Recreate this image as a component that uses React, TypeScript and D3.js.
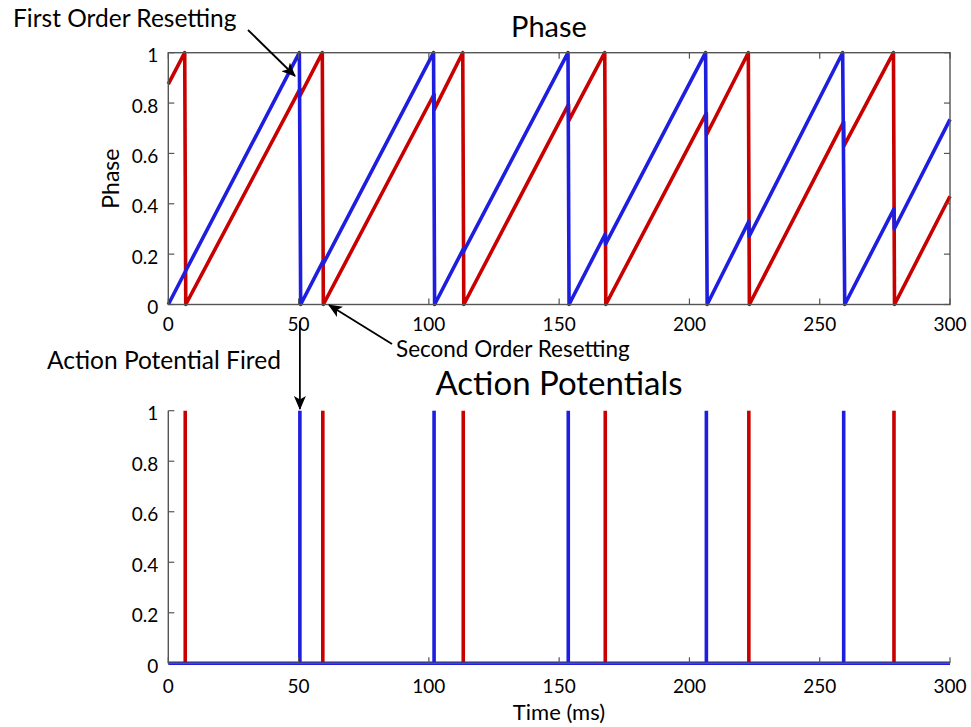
import React from "react";
import * as d3 from "d3";

// Phase trajectories of the two oscillators: vertex times (ms) and phase values
const blueTimes = [0, 6.5, 50.3, 50.8, 59.3, 59.4, 101.8, 102.2, 113.2, 113.3, 153.4, 153.8, 167.7, 167.8, 206.2, 206.8, 222.8, 222.9, 258.8, 259.6, 278.5, 278.6, 300];
const bluePhase = [0, 0.13, 1, 0, 0.17, 0.16, 1, 0, 0.22, 0.21, 1, 0, 0.28, 0.24, 1, 0, 0.33, 0.27, 1, 0, 0.38, 0.3, 0.735];

const redTimes = [0, 6.3, 6.7, 50.5, 50.6, 59.1, 59.5, 102, 102.1, 113.0, 113.4, 153.6, 153.7, 167.5, 167.9, 206.5, 206.6, 222.6, 223.0, 259.2, 259.3, 278.3, 278.7, 300];
const redPhase = [0.875, 1, 0, 0.855, 0.83, 1, 0, 0.835, 0.775, 1, 0, 0.795, 0.73, 1, 0, 0.76, 0.675, 1, 0, 0.725, 0.63, 1, 0, 0.43];

// Action potential firing times (ms)
const blueSpikes = [50.5, 102, 153.5, 206.5, 259.2];
const redSpikes = [6.5, 59.3, 113.2, 167.7, 222.8, 278.5];

const xTicks = [0, 50, 100, 150, 200, 250, 300];
const yTicks = [0, 0.2, 0.4, 0.6, 0.8, 1];
const yTickLabels = ["0", "0.2", "0.4", "0.6", "0.8", "1"];

const W = 971;
const H = 727;
const BLUE = "#1e1ee0";
const RED = "#c80000";
const AXIS = "#555";
const FONT = "Lato, 'Open Sans', sans-serif";

const x = d3.scaleLinear().domain([0, 300]).range([168.3, 950]);
const yTop = d3.scaleLinear().domain([0, 1]).range([304.5, 52.7]);
const yBot = d3.scaleLinear().domain([0, 1]).range([663.3, 410.7]);

const TICK = 6;
const LW = 3.6;

function zipPts(ts: number[], vs: number[]): [number, number][] {
  return ts.map((t, i) => [t, vs[i]]);
}

export default function App() {
  const lineTop = d3
    .line<[number, number]>()
    .x((d) => x(d[0]))
    .y((d) => yTop(d[1]));

  const bluePath = lineTop(zipPts(blueTimes, bluePhase)) || "";
  const redPath = lineTop(zipPts(redTimes, redPhase)) || "";

  const [x0, x1] = x.range();
  const [tb, tt] = [yTop(0), yTop(1)];
  const [bb, bt] = [yBot(0), yBot(1)];

  return (
    <svg
      width={W}
      height={H}
      viewBox={`0 0 ${W} ${H}`}
      style={{ position: "absolute", left: 0, top: 0, background: "#fff" }}
      fontFamily={FONT}
    >
      <defs>
        <marker
          id="arrowHead"
          viewBox="0 0 14 12"
          refX="13"
          refY="6"
          markerWidth="14"
          markerHeight="12"
          markerUnits="userSpaceOnUse"
          orient="auto"
        >
          <path d="M0,0 L14,6 L0,12 L3.5,6 Z" fill="#000" />
        </marker>
      </defs>
      <rect x={0} y={0} width={W} height={H} fill="#fff" />

      {/* ---------- Phase panel ---------- */}
      <text x={549} y={37} textAnchor="middle" fontSize={29} fill="#000">
        Phase
      </text>
      <text
        transform={`translate(119, ${(tb + tt) / 2}) rotate(-90)`}
        textAnchor="middle"
        fontSize={23}
        fill="#000"
      >
        Phase
      </text>

      <path d={redPath} fill="none" stroke={RED} strokeWidth={LW} strokeLinejoin="round" />
      <path d={bluePath} fill="none" stroke={BLUE} strokeWidth={LW} strokeLinejoin="round" />

      <rect x={x0} y={tt} width={x1 - x0} height={tb - tt} fill="none" stroke={AXIS} strokeWidth={1.4} />
      {xTicks.map((t) => (
        <g key={`tx${t}`}>
          <line x1={x(t)} x2={x(t)} y1={tb} y2={tb - TICK} stroke={AXIS} strokeWidth={1.2} />
          <line x1={x(t)} x2={x(t)} y1={tt} y2={tt + TICK} stroke={AXIS} strokeWidth={1.2} />
          <text x={x(t)} y={tb + 26} textAnchor="middle" fontSize={19} fill="#000">
            {t}
          </text>
        </g>
      ))}
      {yTicks.map((v, i) => (
        <g key={`ty${v}`}>
          <line x1={x0} x2={x0 + TICK} y1={yTop(v)} y2={yTop(v)} stroke={AXIS} strokeWidth={1.2} />
          <line x1={x1} x2={x1 - TICK} y1={yTop(v)} y2={yTop(v)} stroke={AXIS} strokeWidth={1.2} />
          <text x={x0 - 10} y={yTop(v) + 9.5} textAnchor="end" fontSize={19} fill="#000">
            {yTickLabels[i]}
          </text>
        </g>
      ))}

      {/* ---------- Annotations ---------- */}
      <text x={13} y={27} fontSize={24.5} fill="#000">
        First Order Resetting
      </text>
      <line x1={248} y1={30} x2={295} y2={76} stroke="#000" strokeWidth={1.8} markerEnd="url(#arrowHead)" />

      <text x={396} y={357} fontSize={22.5} fill="#000">
        Second Order Resetting
      </text>
      <line x1={392} y1={344} x2={329} y2={305} stroke="#000" strokeWidth={1.8} markerEnd="url(#arrowHead)" />

      <text x={47} y={369} fontSize={24.5} fill="#000">
        Action Potential Fired
      </text>
      <line x1={x(50.5)} y1={321} x2={x(50.5)} y2={409} stroke="#000" strokeWidth={1.8} markerEnd="url(#arrowHead)" />

      {/* ---------- Action potentials panel ---------- */}
      <text x={559} y={395} textAnchor="middle" fontSize={33} fill="#000">
        Action Potentials
      </text>

      {redSpikes.map((t) => (
        <line key={`rs${t}`} x1={x(t)} x2={x(t)} y1={yBot(0)} y2={yBot(1)} stroke={RED} strokeWidth={LW} />
      ))}
      {blueSpikes.map((t) => (
        <line key={`bs${t}`} x1={x(t)} x2={x(t)} y1={yBot(0)} y2={yBot(1)} stroke={BLUE} strokeWidth={LW} />
      ))}
      <line x1={x(0)} x2={x(300)} y1={yBot(0)} y2={yBot(0)} stroke={BLUE} strokeWidth={LW} />

      <line x1={x0} x2={x0} y1={bb} y2={bt} stroke={AXIS} strokeWidth={1.4} />
      <line x1={x0} x2={x1} y1={bb} y2={bb} stroke={AXIS} strokeWidth={1.4} />
      {xTicks.map((t) => (
        <g key={`bx${t}`}>
          <line x1={x(t)} x2={x(t)} y1={bb} y2={bb - TICK} stroke={AXIS} strokeWidth={1.2} />
          <text x={x(t)} y={bb + 30} textAnchor="middle" fontSize={19} fill="#000">
            {t}
          </text>
        </g>
      ))}
      {yTicks.map((v, i) => (
        <g key={`by${v}`}>
          <line x1={x0} x2={x0 + TICK} y1={yBot(v)} y2={yBot(v)} stroke={AXIS} strokeWidth={1.2} />
          <text x={x0 - 10} y={yBot(v) + 9.5} textAnchor="end" fontSize={19} fill="#000">
            {yTickLabels[i]}
          </text>
        </g>
      ))}
      <text x={559} y={720} textAnchor="middle" fontSize={22} fill="#000">
        Time (ms)
      </text>
    </svg>
  );
}
